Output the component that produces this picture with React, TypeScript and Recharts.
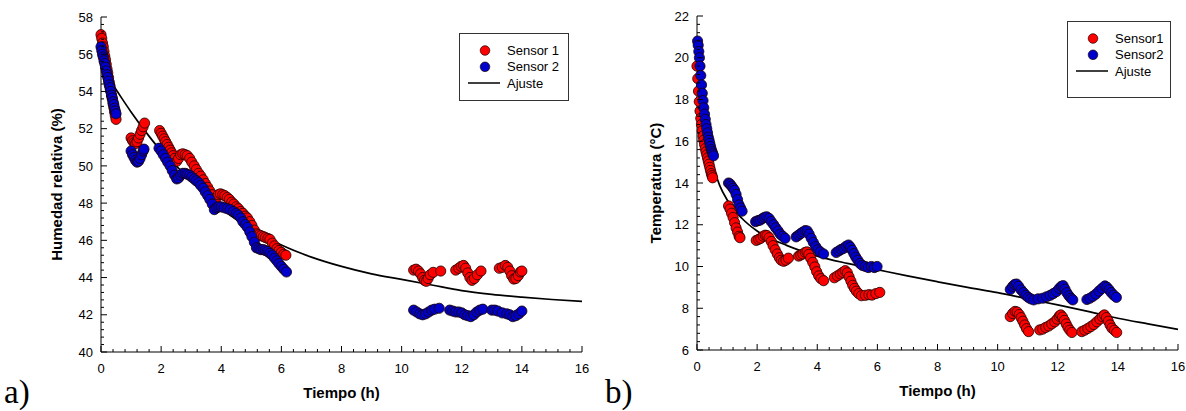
import React from "react";
import { ComposedChart, Scatter, Line, XAxis, YAxis, Legend, Label } from "recharts";

type Pair = [number, number];

const xTicks = [0, 2, 4, 6, 8, 10, 12, 14, 16];
const humTicks = [40, 42, 44, 46, 48, 50, 52, 54, 56, 58];
const tempTicks = [6, 8, 10, 12, 14, 16, 18, 20, 22];

const humNames = ["Sensor 1", "Sensor 2", "Ajuste"];
const tempNames = ["Sensor1", "Sensor2", "Ajuste"];

// a) relative humidity (%), time in hours
const humSensor1: Pair[] = [
  [0, 57.05], [0.025, 56.85], [0.05, 56.6], [0.075, 56.4], [0.1, 56.15], [0.125, 55.9], [0.15, 55.7],
  [0.175, 55.45], [0.2, 55.2], [0.225, 55.0], [0.25, 54.75], [0.275, 54.5], [0.3, 54.3], [0.325, 54.05],
  [0.35, 53.8], [0.375, 53.6], [0.4, 53.35], [0.425, 53.15], [0.45, 52.9], [0.475, 52.7], [0.5, 52.5],
  [1.0, 51.5], [1.05, 51.35], [1.1, 51.25], [1.15, 51.2], [1.2, 51.3], [1.25, 51.5], [1.3, 51.7],
  [1.35, 51.9], [1.4, 52.1], [1.45, 52.3],
  [1.95, 51.9], [2.0, 51.75], [2.05, 51.6], [2.1, 51.45], [2.15, 51.3], [2.2, 51.15], [2.25, 51.0],
  [2.3, 50.85], [2.35, 50.7], [2.4, 50.55], [2.45, 50.4], [2.52, 50.25], [2.58, 50.4], [2.65, 50.6],
  [2.72, 50.65], [2.8, 50.6], [2.87, 50.55], [2.95, 50.4], [3.02, 50.2], [3.1, 50.0], [3.17, 49.8],
  [3.25, 49.6], [3.32, 49.45], [3.4, 49.25], [3.47, 49.05], [3.55, 48.85], [3.62, 48.65], [3.7, 48.45],
  [3.77, 48.25], [3.83, 48.25], [3.9, 48.45], [3.97, 48.5], [4.05, 48.45], [4.12, 48.4], [4.2, 48.3],
  [4.27, 48.2], [4.35, 48.05], [4.42, 47.95], [4.5, 47.8], [4.57, 47.7], [4.65, 47.55], [4.72, 47.45],
  [4.8, 47.3], [4.87, 47.2], [4.95, 47.0], [5.02, 46.8], [5.1, 46.55], [5.17, 46.35], [5.25, 46.3],
  [5.32, 46.25], [5.4, 46.2], [5.47, 46.15], [5.55, 46.1], [5.62, 46.05], [5.7, 45.85], [5.77, 45.7],
  [5.85, 45.55], [5.92, 45.45], [6.0, 45.35], [6.08, 45.25], [6.15, 45.2],
  [10.4, 44.4], [10.48, 44.45], [10.56, 44.35], [10.63, 44.2], [10.7, 44.0], [10.76, 43.85], [10.82, 43.8],
  [10.88, 43.95], [10.95, 44.15], [11.05, 44.28], [11.3, 44.35],
  [11.8, 44.4], [11.9, 44.5], [11.98, 44.6], [12.06, 44.65], [12.13, 44.5], [12.2, 44.25], [12.27, 44.0],
  [12.34, 43.85], [12.42, 43.95], [12.52, 44.15], [12.64, 44.35],
  [13.25, 44.5], [13.35, 44.55], [13.45, 44.65], [13.53, 44.55], [13.6, 44.35], [13.66, 44.1], [13.73, 43.92],
  [13.8, 43.95], [13.88, 44.1], [13.95, 44.3], [14.0, 44.35],
];

const humSensor2: Pair[] = [
  [0, 56.4], [0.025, 56.2], [0.05, 56.0], [0.075, 55.85], [0.1, 55.65], [0.125, 55.5], [0.15, 55.3],
  [0.175, 55.1], [0.2, 54.9], [0.225, 54.75], [0.25, 54.55], [0.275, 54.35], [0.3, 54.2], [0.325, 54.0],
  [0.35, 53.8], [0.375, 53.65], [0.4, 53.45], [0.425, 53.3], [0.45, 53.1], [0.475, 52.95], [0.5, 52.8],
  [1.0, 50.8], [1.05, 50.6], [1.1, 50.45], [1.15, 50.3], [1.2, 50.2], [1.25, 50.25], [1.3, 50.4],
  [1.35, 50.6], [1.4, 50.8], [1.43, 50.9],
  [1.93, 50.95], [2.0, 50.8], [2.07, 50.6], [2.15, 50.4], [2.22, 50.2], [2.3, 50.0], [2.37, 49.75],
  [2.45, 49.5], [2.52, 49.3], [2.58, 49.35], [2.65, 49.5], [2.72, 49.6], [2.8, 49.6], [2.87, 49.55],
  [2.95, 49.5], [3.02, 49.4], [3.1, 49.3], [3.17, 49.2], [3.25, 49.1], [3.32, 48.95], [3.4, 48.8],
  [3.47, 48.6], [3.55, 48.4], [3.62, 48.2], [3.7, 47.95], [3.77, 47.65], [3.85, 47.75], [3.92, 47.8],
  [4.0, 47.8], [4.1, 47.75], [4.2, 47.7], [4.3, 47.65], [4.4, 47.55], [4.5, 47.45], [4.57, 47.35],
  [4.65, 47.2], [4.72, 47.0], [4.8, 46.85], [4.87, 46.7], [4.95, 46.45], [5.02, 46.2], [5.1, 45.9],
  [5.17, 45.6], [5.25, 45.55], [5.32, 45.5], [5.4, 45.5], [5.47, 45.45], [5.55, 45.4], [5.62, 45.3],
  [5.7, 45.2], [5.77, 45.05], [5.85, 44.9], [5.92, 44.75], [6.0, 44.6], [6.08, 44.45], [6.17, 44.3],
  [10.4, 42.25], [10.5, 42.15], [10.6, 42.05], [10.7, 42.0], [10.8, 42.05], [10.9, 42.15], [11.0, 42.25],
  [11.1, 42.3], [11.25, 42.35],
  [11.6, 42.25], [11.7, 42.2], [11.8, 42.15], [11.9, 42.15], [12.0, 42.1], [12.1, 42.0], [12.2, 41.95],
  [12.3, 41.9], [12.4, 42.0], [12.5, 42.15], [12.6, 42.25], [12.7, 42.3],
  [13.0, 42.25], [13.1, 42.25], [13.2, 42.2], [13.35, 42.1], [13.5, 42.05], [13.6, 42.0], [13.7, 41.9],
  [13.8, 41.95], [13.9, 42.05], [14.0, 42.2],
];

const humFit: Pair[] = [
  [0, 55.3], [0.25, 54.7], [0.5, 54.1], [1, 52.9], [1.5, 51.8], [2, 50.8], [2.5, 50.0], [3, 49.2],
  [4, 47.7], [5, 46.6], [6, 45.75], [7, 45.1], [8, 44.6], [9, 44.2], [10, 43.9], [11, 43.6],
  [12, 43.3], [13, 43.1], [14, 42.95], [15, 42.82], [16, 42.72],
];

// b) temperature (°C)
const tempSensor1: Pair[] = [
  [0, 19.6], [0.025, 19.0], [0.05, 18.4], [0.075, 17.9], [0.1, 17.45], [0.125, 17.1], [0.15, 16.8],
  [0.175, 16.5], [0.2, 16.25], [0.225, 16.05], [0.25, 15.85], [0.275, 15.65], [0.3, 15.5], [0.325, 15.35],
  [0.35, 15.2], [0.375, 15.05], [0.4, 14.9], [0.425, 14.75], [0.45, 14.6], [0.475, 14.45], [0.5, 14.35],
  [0.52, 14.25],
  [1.05, 12.9], [1.1, 12.75], [1.15, 12.55], [1.2, 12.35], [1.25, 12.1], [1.3, 11.85], [1.35, 11.65],
  [1.4, 11.45], [1.43, 11.38],
  [1.97, 11.25], [2.05, 11.3], [2.12, 11.35], [2.2, 11.45], [2.27, 11.5], [2.33, 11.48], [2.4, 11.38],
  [2.47, 11.2], [2.53, 11.0], [2.6, 10.8], [2.67, 10.6], [2.74, 10.42], [2.8, 10.3], [2.88, 10.25],
  [2.96, 10.3], [3.04, 10.4],
  [3.38, 10.5], [3.45, 10.55], [3.52, 10.6], [3.6, 10.68], [3.66, 10.7], [3.72, 10.58], [3.78, 10.4],
  [3.85, 10.2], [3.92, 9.98], [3.98, 9.75], [4.05, 9.55], [4.12, 9.42], [4.21, 9.32],
  [4.57, 9.46], [4.67, 9.55], [4.77, 9.64], [4.85, 9.72], [4.93, 9.8], [5.0, 9.7], [5.06, 9.5],
  [5.12, 9.3], [5.18, 9.1], [5.24, 8.95], [5.3, 8.82], [5.38, 8.7], [5.47, 8.6], [5.6, 8.62],
  [5.72, 8.65], [5.82, 8.63], [5.95, 8.7], [6.08, 8.76],
  [10.42, 7.6], [10.5, 7.75], [10.58, 7.85], [10.65, 7.82], [10.72, 7.7], [10.78, 7.55], [10.84, 7.38],
  [10.9, 7.2], [10.96, 7.02], [11.03, 6.88],
  [11.4, 6.96], [11.5, 7.0], [11.6, 7.08], [11.7, 7.15], [11.8, 7.25], [11.9, 7.35], [11.98, 7.48],
  [12.05, 7.62], [12.1, 7.68], [12.16, 7.58], [12.22, 7.42], [12.28, 7.25], [12.34, 7.08], [12.4, 6.95],
  [12.47, 6.84],
  [12.8, 6.88], [12.9, 6.95], [13.0, 7.03], [13.1, 7.12], [13.2, 7.22], [13.3, 7.35], [13.4, 7.48],
  [13.48, 7.6], [13.55, 7.68], [13.62, 7.55], [13.68, 7.38], [13.74, 7.2], [13.8, 7.05], [13.88, 6.95],
  [13.96, 6.84],
];

const tempSensor2: Pair[] = [
  [0.02, 20.8], [0.04, 20.6], [0.06, 20.3], [0.08, 20.0], [0.1, 19.6], [0.125, 19.15], [0.15, 18.7],
  [0.175, 18.3], [0.2, 17.95], [0.225, 17.6], [0.25, 17.3], [0.275, 17.05], [0.3, 16.8], [0.325, 16.6],
  [0.35, 16.4], [0.375, 16.2], [0.4, 16.05], [0.425, 15.9], [0.45, 15.75], [0.475, 15.6], [0.5, 15.5],
  [0.525, 15.4], [0.55, 15.3],
  [1.05, 14.0], [1.1, 13.95], [1.15, 13.85], [1.2, 13.75], [1.25, 13.65], [1.3, 13.45], [1.35, 13.2],
  [1.4, 12.95], [1.45, 12.8], [1.5, 12.65],
  [1.95, 12.15], [2.03, 12.2], [2.1, 12.22], [2.18, 12.3], [2.25, 12.36], [2.32, 12.38], [2.4, 12.3],
  [2.47, 12.15], [2.55, 12.0], [2.62, 11.85], [2.7, 11.7], [2.77, 11.55], [2.85, 11.45], [2.93, 11.35],
  [3.3, 11.42], [3.38, 11.5], [3.45, 11.58], [3.52, 11.65], [3.6, 11.72], [3.67, 11.7], [3.73, 11.55],
  [3.8, 11.35], [3.87, 11.15], [3.95, 10.95], [4.02, 10.8], [4.1, 10.7], [4.21, 10.6],
  [4.63, 10.67], [4.72, 10.75], [4.8, 10.82], [4.88, 10.87], [4.96, 10.97], [5.04, 11.03], [5.1, 10.93],
  [5.16, 10.78], [5.22, 10.62], [5.28, 10.45], [5.35, 10.3], [5.42, 10.15], [5.5, 10.05], [5.6, 10.0],
  [5.7, 9.95], [5.8, 10.0], [5.9, 9.95], [5.99, 10.0],
  [10.42, 8.9], [10.5, 9.05], [10.57, 9.14], [10.63, 9.16], [10.7, 9.05], [10.78, 8.88], [10.86, 8.75],
  [10.94, 8.62], [11.02, 8.52], [11.1, 8.45], [11.2, 8.4], [11.35, 8.45], [11.5, 8.48], [11.63, 8.55],
  [11.75, 8.62], [11.85, 8.7], [11.96, 8.8], [12.05, 8.95], [12.12, 9.05], [12.18, 9.08], [12.24, 8.92],
  [12.3, 8.75], [12.37, 8.6], [12.44, 8.48], [12.5, 8.4],
  [12.97, 8.42], [13.07, 8.48], [13.17, 8.57], [13.27, 8.68], [13.37, 8.82], [13.47, 8.95], [13.57, 9.07],
  [13.64, 9.0], [13.71, 8.88], [13.78, 8.75], [13.86, 8.63], [13.95, 8.52],
];

const tempFit: Pair[] = [
  [0, 20.0], [0.05, 19.0], [0.1, 18.3], [0.2, 17.2], [0.3, 16.3], [0.4, 15.6], [0.5, 15.0],
  [0.75, 13.9], [1, 13.2], [1.5, 12.3], [2, 11.7], [3, 11.0], [4, 10.5], [5, 10.15], [6, 9.85],
  [7, 9.55], [8, 9.27], [9, 9.0], [10, 8.75], [11, 8.45], [12, 8.16], [13, 7.85], [14, 7.52],
  [15, 7.25], [16, 6.99],
];

const RED = "#ff0000";
const BLUE = "#0000cc";
const FONT = "'Liberation Sans', Arial, sans-serif";

const toRows = (pairs: Pair[]) => pairs.map(([t, v]) => ({ t, v }));

// labelled ticks plus unlabelled minor ticks every 0.4
function withMinors(labelled: number[]) {
  const lo = labelled[0];
  const hi = labelled[labelled.length - 1];
  const out: number[] = [];
  for (let k = 0; lo + k * 0.4 <= hi + 0.01; k++) out.push(+(lo + k * 0.4).toFixed(1));
  return out;
}

// tick lines point into the plot; tickSize/tickMargin are 0 so x,y sit on the axis line
function xTick(labelled: number[]) {
  return (p: any) => {
    const v = p.payload.value;
    const major = labelled.includes(v);
    return (
      <g>
        <line x1={p.x} x2={p.x} y1={p.y} y2={p.y - (major ? 6 : 3)} stroke="#000" />
        {major && (
          <text x={p.x} y={p.y + 20.5} textAnchor="middle" fontSize={13} fontFamily={FONT} fill="#000">
            {v}
          </text>
        )}
      </g>
    );
  };
}

function yTick(labelled: number[]) {
  return (p: any) => {
    const v = p.payload.value;
    const major = labelled.includes(v);
    return (
      <g>
        <line x1={p.x} x2={p.x + (major ? 6 : 3)} y1={p.y} y2={p.y} stroke="#000" />
        {major && (
          <text x={p.x - 8} y={p.y} dy="0.36em" textAnchor="end" fontSize={13} fontFamily={FONT} fill="#000">
            {v}
          </text>
        )}
      </g>
    );
  };
}

const marker = (fill: string) => (p: any) => (
  <circle cx={p.cx} cy={p.cy} r={5.1} fill={fill} stroke="#1a0000" strokeWidth={0.8} />
);

const titleStyle = { fill: "#000", fontSize: 15, fontWeight: 700, fontFamily: FONT };

const legendRows = [17.5, 33.8, 50];

function legendContent(names: string[], w: number, h: number) {
  return () => (
    <svg width={w} height={h} style={{ display: "block" }}>
      <rect x={0.5} y={0.5} width={w - 1} height={h - 1} fill="#fff" stroke="#333" />
      <circle cx={26} cy={legendRows[0]} r={4.8} fill={RED} stroke="#1a0000" strokeWidth={0.7} />
      <circle cx={26} cy={legendRows[1]} r={4.8} fill={BLUE} stroke="#1a0000" strokeWidth={0.7} />
      <line x1={9} x2={41} y1={legendRows[2]} y2={legendRows[2]} stroke="#000" strokeWidth={1.5} />
      {names.map((n, i) => (
        <text key={n} x={48} y={legendRows[i]} dominantBaseline="central" fontSize={13} fontFamily={FONT} fill="#000">
          {n}
        </text>
      ))}
    </svg>
  );
}

interface PanelProps {
  s1: Pair[];
  s2: Pair[];
  fit: Pair[];
  names: string[];
  yTicks: number[];
  yLabel: string;
  yAxisWidth: number;
  width: number;
  margin: { top: number; right: number; bottom: number; left: number };
  legend: { left: number; top: number; width: number; height: number };
}

function Panel({ s1, s2, fit, names, yTicks, yLabel, yAxisWidth, width, margin, legend }: PanelProps) {
  const yDomain = [yTicks[0], yTicks[yTicks.length - 1]];
  return (
    <ComposedChart width={width} height={411} margin={margin}>
      <XAxis
        type="number"
        dataKey="t"
        domain={[0, 16]}
        ticks={withMinors(xTicks)}
        interval={0}
        tickLine={false}
        tickSize={0}
        tickMargin={0}
        height={50}
        stroke="#000"
        tick={xTick(xTicks)}
      >
        <Label value="Tiempo (h)" position="insideTop" offset={35} style={titleStyle} />
      </XAxis>
      <YAxis
        type="number"
        domain={yDomain}
        ticks={withMinors(yTicks)}
        interval={0}
        tickLine={false}
        tickSize={0}
        tickMargin={0}
        width={yAxisWidth}
        stroke="#000"
        tick={yTick(yTicks)}
      >
        <Label value={yLabel} angle={-90} position="center" style={titleStyle} />
      </YAxis>
      <Scatter name={names[0]} data={toRows(s1)} dataKey="v" fill={RED} shape={marker(RED)} isAnimationActive={false} />
      <Scatter name={names[1]} data={toRows(s2)} dataKey="v" fill={BLUE} shape={marker(BLUE)} isAnimationActive={false} />
      <Line
        name={names[2]}
        data={toRows(fit)}
        dataKey="v"
        type="monotone"
        stroke="#000"
        strokeWidth={1.7}
        dot={false}
        activeDot={false}
        isAnimationActive={false}
      />
      <Legend
        layout="horizontal"
        verticalAlign="middle"
        align="center"
        content={legendContent(names, legend.width, legend.height)}
        wrapperStyle={{ left: legend.left, top: legend.top, width: legend.width, height: legend.height }}
      />
    </ComposedChart>
  );
}

const letterStyle = {
  position: "absolute" as const,
  top: 376,
  fontFamily: "'Liberation Serif', serif",
  fontSize: 33,
  lineHeight: 1,
};

export default function App() {
  return (
    <div style={{ position: "absolute", left: 0, top: 0, width: 1186, height: 411, background: "#fff", fontFamily: FONT }}>
      <div style={{ position: "absolute", left: 0, top: 0 }}>
        <Panel
          s1={humSensor1}
          s2={humSensor2}
          fit={humFit}
          names={humNames}
          yTicks={humTicks}
          yLabel="Humedad relativa (%)"
          yAxisWidth={88}
          width={600}
          margin={{ top: 17, right: 18, bottom: 9, left: 13 }}
          legend={{ left: 459, top: 33, width: 110, height: 68 }}
        />
      </div>
      <div style={{ position: "absolute", left: 600, top: 0 }}>
        <Panel
          s1={tempSensor1}
          s2={tempSensor2}
          fit={tempFit}
          names={tempNames}
          yTicks={tempTicks}
          yLabel="Temperatura (°C)"
          yAxisWidth={82}
          width={586}
          margin={{ top: 16, right: 8, bottom: 11, left: 15 }}
          legend={{ left: 467, top: 21, width: 104, height: 77 }}
        />
      </div>
      <div style={{ ...letterStyle, left: 4 }}>a)</div>
      <div style={{ ...letterStyle, left: 605 }}>b)</div>
    </div>
  );
}
